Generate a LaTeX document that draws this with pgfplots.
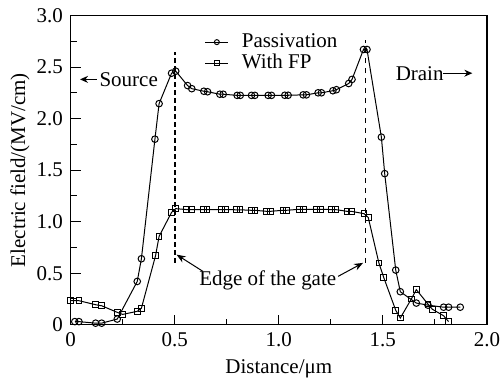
\documentclass[border=0pt]{standalone}
\usepackage{fontspec}
\setmainfont{Liberation Serif}
\usepackage{pgfplots}
\pgfplotsset{compat=1.18}
\usetikzlibrary{arrows.meta}
\begin{document}
\fontsize{21}{25}\selectfont
\begin{tikzpicture}
\begin{axis}[
 scale only axis, width=416.6pt, height=309.5pt,
 xmin=0,xmax=2,ymin=0,ymax=3,
 xtick={0,0.5,1,1.5,2}, xticklabels={0,0.5,1.0,1.5,2.0},
 ytick={0,0.5,1,1.5,2,2.5,3}, yticklabels={0,0.5,1.0,1.5,2.0,2.5,3.0},
 minor tick num=1,
 tick align=inside, tick pos=left,
 major tick length=10pt, minor tick length=6pt,
 axis line style={line width=1.5pt},
 every tick/.style={line width=1pt, black},
 tick label style={font=\fontsize{21}{25}\selectfont, inner sep=1pt},
 xticklabel style={yshift=-7pt},
 yticklabel style={xshift=-6.5pt},
 label style={font=\fontsize{21}{25}\selectfont},
 xlabel={Distance/μm}, ylabel={Electric field/(MV/cm)},
 xlabel style={at={(axis description cs:0.5,-0.142)}, anchor=center},
 ylabel style={at={(axis description cs:-0.122,0.5)}, anchor=center, rotate=0},
 clip=false,
 legend style={draw=none, fill=none, at={(0.322,0.95)}, anchor=north west,
   inner sep=0pt, row sep=-1pt, font=\fontsize{21}{25}\selectfont,
   nodes={inner sep=2pt, text height=14pt, text depth=4pt}},
 legend cell align=left,
 legend image code/.code={\draw[#1, mark repeat=2, mark phase=2, mark size=2.5pt] plot coordinates {(0pt,0pt) (11.5pt,0pt) (23pt,0pt)}; \path (34pt,0pt);},
]
\addplot[black, line width=1pt, mark=o, mark size=3.3pt, mark options={fill=white, line width=1pt}]
coordinates {
(0.02,0.03)(0.04,0.03)(0.12,0.015)(0.149,0.015)(0.224,0.055)(0.32,0.42)(0.34,0.64)(0.405,1.80)(0.425,2.145)(0.485,2.44)(0.505,2.46)(0.562,2.32)(0.582,2.29)(0.64,2.265)(0.658,2.26)(0.717,2.236)(0.733,2.236)(0.80,2.225)(0.815,2.225)(0.869,2.225)(0.885,2.225)(0.949,2.225)(0.965,2.225)(1.029,2.226)(1.045,2.226)(1.117,2.23)(1.133,2.23)(1.189,2.25)(1.205,2.25)(1.26,2.27)(1.277,2.28)(1.336,2.34)(1.352,2.38)(1.407,2.67)(1.424,2.67)(1.493,1.82)(1.509,1.466)(1.562,0.53)(1.584,0.32)(1.661,0.21)(1.717,0.19)(1.792,0.17)(1.816,0.17)(1.872,0.17)
};
\addlegendentry{Passivation}
\addplot[black, line width=1pt, mark=square, mark size=2.8pt, mark options={fill=white, line width=1pt}]
coordinates {
(0.0,0.233)(0.04,0.233)(0.12,0.194)(0.149,0.184)(0.224,0.12)(0.25,0.1)(0.32,0.13)(0.34,0.16)(0.408,0.67)(0.425,0.857)(0.485,1.09)(0.505,1.126)(0.557,1.117)(0.581,1.117)(0.637,1.117)(0.655,1.117)(0.725,1.117)(0.744,1.117)(0.797,1.115)(0.813,1.115)(0.869,1.11)(0.885,1.11)(0.941,1.10)(0.96,1.10)(1.02,1.11)(1.037,1.11)(1.10,1.12)(1.12,1.12)(1.18,1.12)(1.20,1.12)(1.253,1.117)(1.273,1.117)(1.328,1.10)(1.349,1.10)(1.41,1.077)(1.43,1.04)(1.481,0.60)(1.504,0.46)(1.562,0.14)(1.584,0.065)(1.637,0.25)(1.661,0.34)(1.717,0.20)(1.738,0.15)(1.792,0.087)(1.816,0.03)
};
\addlegendentry{With FP}
\draw[line width=1.8pt, dash pattern=on 5pt off 3pt] (axis cs:0.5,0.6) -- (axis cs:0.5,2.65);
\draw[line width=1.2pt, dash pattern=on 5pt off 5pt] (axis cs:1.416,0.6) -- (axis cs:1.416,2.76);
\draw[line width=1pt, -{Stealth[length=9pt,width=7pt]}] (axis cs:0.636,0.517) -- (axis cs:0.509,0.68);
\draw[line width=1pt, -{Stealth[length=9pt,width=7pt]}] (axis cs:1.285,0.469) -- (axis cs:1.405,0.6);
\node[inner sep=0pt] at (axis cs:0.947,0.43) {Edge of the gate};
\node[inner sep=0pt] at (axis cs:0.279,2.38) {Source};
\draw[line width=1pt, -{Stealth[length=8pt,width=7pt]}] (axis cs:0.126,2.38) -- (axis cs:0.045,2.38);
\node[inner sep=0pt] at (axis cs:1.677,2.44) {Drain};
\draw[line width=1pt, -{Stealth[length=8pt,width=7pt]}] (axis cs:1.79,2.44) -- (axis cs:1.93,2.44);
\end{axis}
\path[use as bounding box] ([shift={(-70.7pt,-53pt)}]current axis.south west) rectangle ([shift={(13.7pt,15.5pt)}]current axis.north east);
\end{tikzpicture}
\end{document}
